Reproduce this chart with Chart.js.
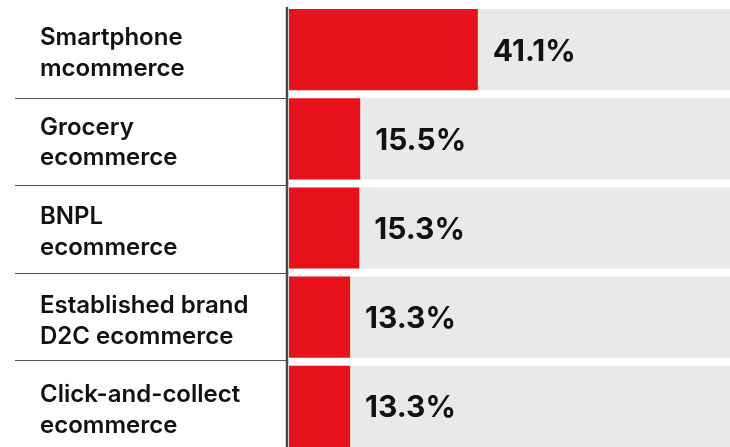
<!DOCTYPE html>
<html>
<head>
<meta charset="utf-8">
<script src="https://cdn.jsdelivr.net/npm/chart.js@4"></script>
<style>
  html, body { margin: 0; padding: 0; background: #fff; overflow: hidden; }
  canvas { display: block; }
</style>
</head>
<body>
<canvas id="grafico" width="730" height="451"></canvas>
<script>
// categorias e valores (%)
const categorias = [
  ['Smartphone', 'mcommerce'],
  ['Grocery', 'ecommerce'],
  ['BNPL', 'ecommerce'],
  ['Established brand', 'D2C ecommerce'],
  ['Click-and-collect', 'ecommerce']
];
const valores = [41.1, 15.5, 15.3, 13.3, 13.3];
const escalaMax = 96; // fim da faixa cinza

const vermelho = '#e8121c';
const cinza = '#e9e9e9';
const linha = '#555555';

// linha vertical do eixo + separadores entre as categorias
const linhasPlugin = {
  id: 'linhas',
  afterDatasetsDraw(chart) {
    const c = chart.ctx;
    const area = chart.chartArea;
    const y = chart.scales.y;
    const eixoX = area.left - 2;
    // a coluna de textos tem passo um pouco menor que o das barras
    const passo = (y.getPixelForValue(1) - y.getPixelForValue(0)) * 0.978;
    c.save();
    c.strokeStyle = linha;
    c.lineWidth = 1;
    for (let i = 0; i < categorias.length - 1; i++) {
      const yy = Math.round(area.top + 6 + passo * (i + 1)) + 0.5;
      c.beginPath();
      c.moveTo(15, yy);
      c.lineTo(eixoX, yy);
      c.stroke();
    }
    c.lineWidth = 2.5;
    c.strokeStyle = '#4a4a4a';
    c.beginPath();
    c.moveTo(eixoX, 7);
    c.lineTo(eixoX, chart.height);
    c.stroke();
    c.restore();
  }
};

// rotulo de valor ao lado da barra vermelha
const rotulosPlugin = {
  id: 'rotulos',
  afterDatasetsDraw(chart) {
    const c = chart.ctx;
    const meta = chart.getDatasetMeta(1);
    c.save();
    c.font = '700 30px Inter, "Noto Sans", sans-serif';
    c.fillStyle = '#111';
    c.textAlign = 'left';
    c.textBaseline = 'middle';
    meta.data.forEach((bar, i) => {
      c.fillText(valores[i].toFixed(1) + '%', bar.x + 15, bar.y + 2);
    });
    c.restore();
  }
};

new Chart(document.getElementById('grafico'), {
  type: 'bar',
  data: {
    labels: categorias,
    datasets: [
      {
        // faixa cinza de fundo
        data: valores.map(() => escalaMax),
        backgroundColor: cinza,
        grouped: false,
        order: 2,
        barPercentage: 0.91,
        categoryPercentage: 1
      },
      {
        data: valores,
        backgroundColor: vermelho,
        grouped: false,
        order: 1,
        barPercentage: 0.91,
        categoryPercentage: 1
      }
    ]
  },
  options: {
    indexAxis: 'y',
    responsive: false,
    animation: false,
    layout: { padding: { left: 40, top: 5, right: 0, bottom: 0 } },
    scales: {
      x: {
        display: false,
        min: 0,
        max: escalaMax
      },
      y: {
        grid: { display: false },
        border: { display: false },
        afterFit(scale) {
          scale.width = 249;
          scale.paddingTop = 0;
          scale.paddingBottom = 0;
        },
        ticks: {
          crossAlign: 'far',
          labelOffset: 4,
          color: '#111',
          font: { family: 'Inter, "Noto Sans", sans-serif', size: 24, weight: 600, lineHeight: 1.28 }
        }
      }
    },
    plugins: {
      legend: { display: false },
      tooltip: { enabled: false }
    }
  },
  plugins: [linhasPlugin, rotulosPlugin]
});
</script>
</body>
</html>
